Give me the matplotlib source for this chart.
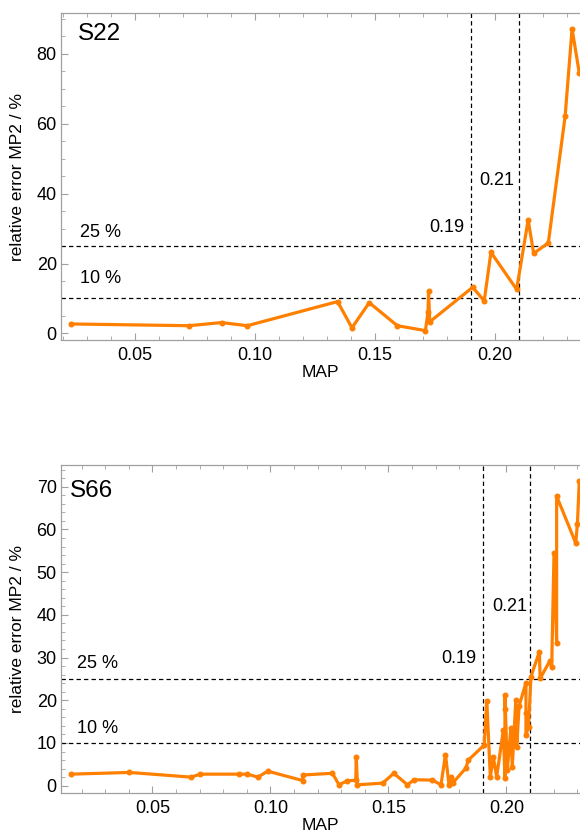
import matplotlib

matplotlib.use("Agg")
import matplotlib.pyplot as plt
from matplotlib.ticker import MultipleLocator, FormatStrFormatter

plt.rcParams["font.family"] = ["Liberation Sans", "DejaVu Sans"]

ORANGE = "#FF8000"
GRAY = "#A0A0A0"

# S22 panel
s22_map = [0.0233, 0.0725, 0.0861, 0.0968, 0.1344, 0.1404, 0.1476, 0.1593,
           0.1710, 0.1721, 0.1723, 0.1728, 0.1907, 0.1955, 0.1983, 0.2090,
           0.2138, 0.2161, 0.2222, 0.2292, 0.2321, 0.2351]
s22_err = [2.7, 2.2, 3.1, 2.2, 9.1, 1.6, 8.8, 2.2,
           0.8, 6.2, 12.1, 3.3, 13.2, 9.3, 23.2, 12.6,
           32.5, 22.9, 25.9, 62.1, 87.2, 74.5]

# S66 panel
s66_map = [0.0155, 0.0403, 0.0664, 0.0703, 0.0866, 0.0903, 0.0947, 0.0989,
           0.1137, 0.1137, 0.1263, 0.1291, 0.1324, 0.1362, 0.1364, 0.1369,
           0.1476, 0.1523, 0.1581, 0.1609, 0.1687, 0.1723, 0.1742, 0.1757,
           0.1767, 0.1774, 0.1828, 0.1839, 0.1906, 0.1917, 0.1932, 0.1945,
           0.1959, 0.1987, 0.1994, 0.1994, 0.1994, 0.2004, 0.2019, 0.2025,
           0.2040, 0.2044, 0.2054, 0.2083, 0.2083, 0.2083, 0.2094, 0.2104,
           0.2140, 0.2143, 0.2185, 0.2192, 0.2202, 0.2213, 0.2213, 0.2294,
           0.2301, 0.2309]
s66_err = [2.7, 3.1, 2.0, 2.7, 2.7, 2.7, 2.0, 3.4,
           1.2, 2.5, 2.9, 0.2, 1.1, 1.3, 6.6, 0.2,
           0.6, 2.9, 0.2, 1.4, 1.3, 0.2, 7.3, 0.2,
           2.1, 0.7, 4.1, 6.0, 9.5, 19.9, 2.1, 6.6,
           2.1, 13.0, 1.7, 17.9, 21.2, 3.7, 13.4, 4.4,
           20.1, 9.1, 18.7, 24.1, 17.0, 11.9, 13.7, 25.5,
           31.4, 25.1, 29.3, 27.7, 54.6, 33.5, 67.8, 56.8,
           61.3, 71.4]

thresholds = [10, 25]
map_cuts = [0.19, 0.21]


def panel(ax, x, y, name, xlim, ylim, ymaj, ymin, pos):
    ax.plot(x, y, color=ORANGE, lw=2.3, marker="o", ms=3.3, zorder=3,
            solid_joinstyle="round")
    for t in thresholds:
        ax.axhline(t, color="black", lw=0.9, ls=(0, (3.5, 2.5)), zorder=2)
    for c in map_cuts:
        ax.axvline(c, color="black", lw=0.9, ls=(0, (3.5, 2.5)), zorder=2)
    ax.set_xlim(*xlim)
    ax.set_ylim(*ylim)

    ax.text(pos["name"][0], pos["name"][1], name, fontsize=17.5, va="center")
    ax.text(pos["pct"], pos["p25"], "25 %", fontsize=13, va="center")
    ax.text(pos["pct"], pos["p10"], "10 %", fontsize=13, va="center")
    ax.text(pos["r19"], pos["c19"], "0.19", fontsize=13, va="center", ha="right")
    ax.text(pos["r21"], pos["c21"], "0.21", fontsize=13, va="center", ha="right")

    ax.xaxis.set_major_locator(MultipleLocator(0.05))
    ax.xaxis.set_minor_locator(MultipleLocator(0.01))
    ax.xaxis.set_major_formatter(FormatStrFormatter("%.2f"))
    ax.yaxis.set_major_locator(MultipleLocator(ymaj))
    ax.yaxis.set_minor_locator(MultipleLocator(ymin))
    ax.tick_params(which="both", direction="in", colors=GRAY,
                   labelcolor="black", labelsize=13, top=True)
    ax.tick_params(which="major", length=5, width=0.8)
    ax.tick_params(which="minor", length=3, width=0.6)
    ax.tick_params(axis="x", pad=5)
    ax.tick_params(axis="y", pad=3)
    for s in ("left", "bottom", "top"):
        ax.spines[s].set_color(GRAY)
        ax.spines[s].set_linewidth(0.9)
    ax.spines["right"].set_visible(False)
    ax.set_xlabel("MAP", fontsize=12.5, labelpad=1)
    ax.set_ylabel("relative error MP2 / %", fontsize=12.5)
    ax.yaxis.set_label_coords(-0.069, 0.5)


fig = plt.figure(figsize=(5.8, 8.33), dpi=100)
ax1 = fig.add_axes([0.1052, 0.5918, 0.8948, 0.3926])
ax2 = fig.add_axes([0.1052, 0.0484, 0.8948, 0.3934])

panel(ax1, s22_map, s22_err, "S22", (0.0192, 0.2354), (-1.9, 91.7), 20, 5,
      {"name": (0.0262, 85.8), "pct": 0.0271, "p25": 29.0, "p10": 15.8,
       "r19": 0.1871, "c19": 30.2, "r21": 0.2079, "c21": 43.9})
panel(ax2, s66_map, s66_err, "S66", (0.0113, 0.2312), (-1.64, 75.1), 10, 2,
      {"name": (0.0151, 69.1), "pct": 0.0181, "p25": 28.7, "p10": 13.4,
       "r19": 0.1875, "c19": 29.8, "r21": 0.2087, "c21": 41.9})

fig.savefig("out.png", dpi=100)
